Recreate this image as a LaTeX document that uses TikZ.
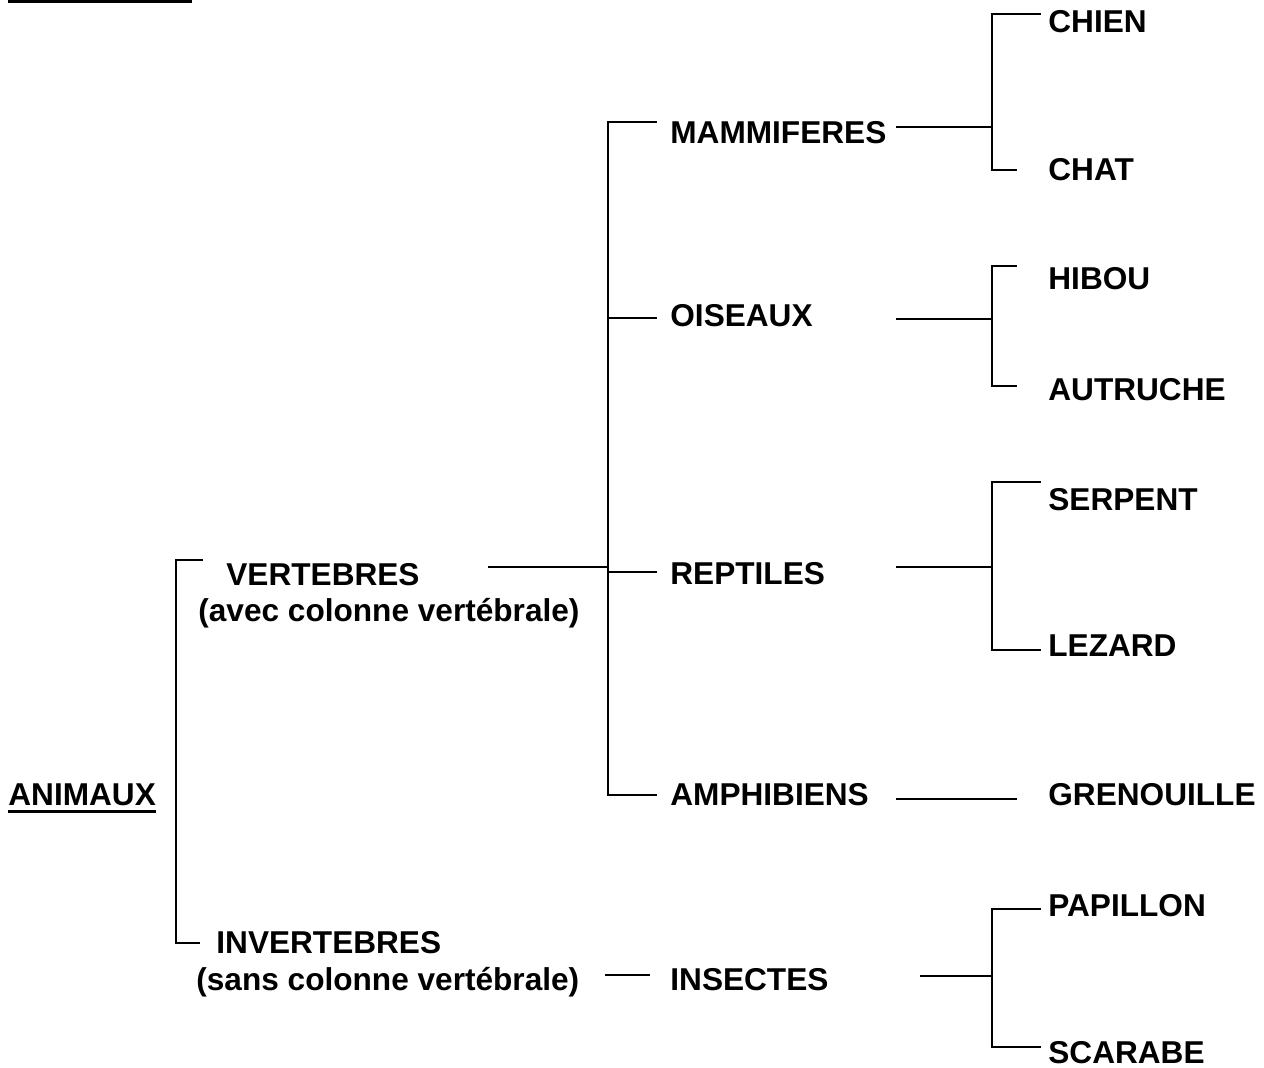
\documentclass[tikz,border=0pt]{standalone}
\usepackage{fontspec}
\setmainfont{Liberation Sans}
\usetikzlibrary{positioning}

\begin{document}
\begin{tikzpicture}[
        x=0.5pt, y=-0.5pt,
        lbl/.style={anchor=base west, inner sep=0pt, font=\fontsize{15.8}{19}\selectfont\bfseries},
        conn/.style={line width=0.9pt},
        uline/.style={line width=1.6pt}
    ]
    \useasboundingbox (0,0) rectangle (1264,1068);
    \fill (8,0) rectangle (192,3.5);

    % root
    \node[lbl] (anim) at (8,806) {ANIMAUX};
    \draw[uline] ([yshift=-2.9pt]anim.base west) -- ([yshift=-2.9pt]anim.base east);

    % first split
    \node[lbl] (vert) at (226,586) {VERTEBRES};
    \node[lbl] (vertsub) at (198,622) {(avec colonne vertébrale)};
    \node[lbl] (invert) at (216,953) {INVERTEBRES};
    \node[lbl] (invertsub) at (196,990) {(sans colonne vertébrale)};
    \coordinate (rootT) at (203,560);
    \coordinate (rootB) at (200,943);
    \draw[conn] (rootT) -| (176,943) -- (rootB);

    % classes
    \node[lbl] (mam) at (670,144) {MAMMIFERES};
    \node[lbl] (ois) at (670,327) {OISEAUX};
    \node[lbl] (rep) at (670,585) {REPTILES};
    \node[lbl] (amph) at (670,806) {AMPHIBIENS};
    \node[lbl] (ins) at (670,990) {INSECTES};
    \coordinate (vertS) at (488,567);
    \coordinate (vertJ) at (608,567);
    \coordinate (mamE) at (657,122);
    \coordinate (oisE) at (657,318);
    \coordinate (repE) at (657,572);
    \coordinate (amphE) at (657,795);
    \draw[conn] (vertS) -- (vertJ);
    \draw[conn] (mamE) -| (vertJ |- amphE) -- (amphE);
    \draw[conn] (vertJ |- oisE) -- (oisE);
    \draw[conn] (vertJ |- repE) -- (repE);
    \coordinate (invS) at (605,975);
    \coordinate (invE) at (650,975);
    \draw[conn] (invS) -- (invE);

    % species
    \node[lbl] (chien) at (1048,33) {CHIEN};
    \node[lbl] (chat) at (1048,181) {CHAT};
    \node[lbl] (hibou) at (1048,290) {HIBOU};
    \node[lbl] (autr) at (1048,401) {AUTRUCHE};
    \node[lbl] (serp) at (1048,511) {SERPENT};
    \node[lbl] (lez) at (1048,657) {LEZARD};
    \node[lbl] (gren) at (1048,806) {GRENOUILLE};
    \node[lbl] (pap) at (1048,916) {PAPILLON};
    \node[lbl] (scar) at (1048,1063) {SCARABE};

    % mammiferes
    \coordinate (mamS) at (896,127);
    \coordinate (mamJ) at (992,127);
    \coordinate (mamT) at (1041,14);
    \coordinate (mamB) at (1017,170);
    \draw[conn] (mamS) -- (mamJ);
    \draw[conn] (mamT) -| (mamJ |- mamB) -- (mamB);
    % oiseaux
    \coordinate (oisS) at (896,319);
    \coordinate (oisJ) at (992,319);
    \coordinate (oisT) at (1017,266);
    \coordinate (oisB) at (1017,386);
    \draw[conn] (oisS) -- (oisJ);
    \draw[conn] (oisT) -| (oisJ |- oisB) -- (oisB);
    % reptiles
    \coordinate (repS) at (896,567);
    \coordinate (repJ) at (992,567);
    \coordinate (repT) at (1041,482);
    \coordinate (repB) at (1041,650);
    \draw[conn] (repS) -- (repJ);
    \draw[conn] (repT) -| (repJ |- repB) -- (repB);
    % amphibiens
    \coordinate (amphS) at (896,799);
    \coordinate (amphF) at (1017,799);
    \draw[conn] (amphS) -- (amphF);
    % insectes
    \coordinate (insS) at (920,976);
    \coordinate (insJ) at (992,976);
    \coordinate (insT) at (1041,909);
    \coordinate (insB) at (1041,1047);
    \draw[conn] (insS) -- (insJ);
    \draw[conn] (insT) -| (insJ |- insB) -- (insB);
\end{tikzpicture}
\end{document}
